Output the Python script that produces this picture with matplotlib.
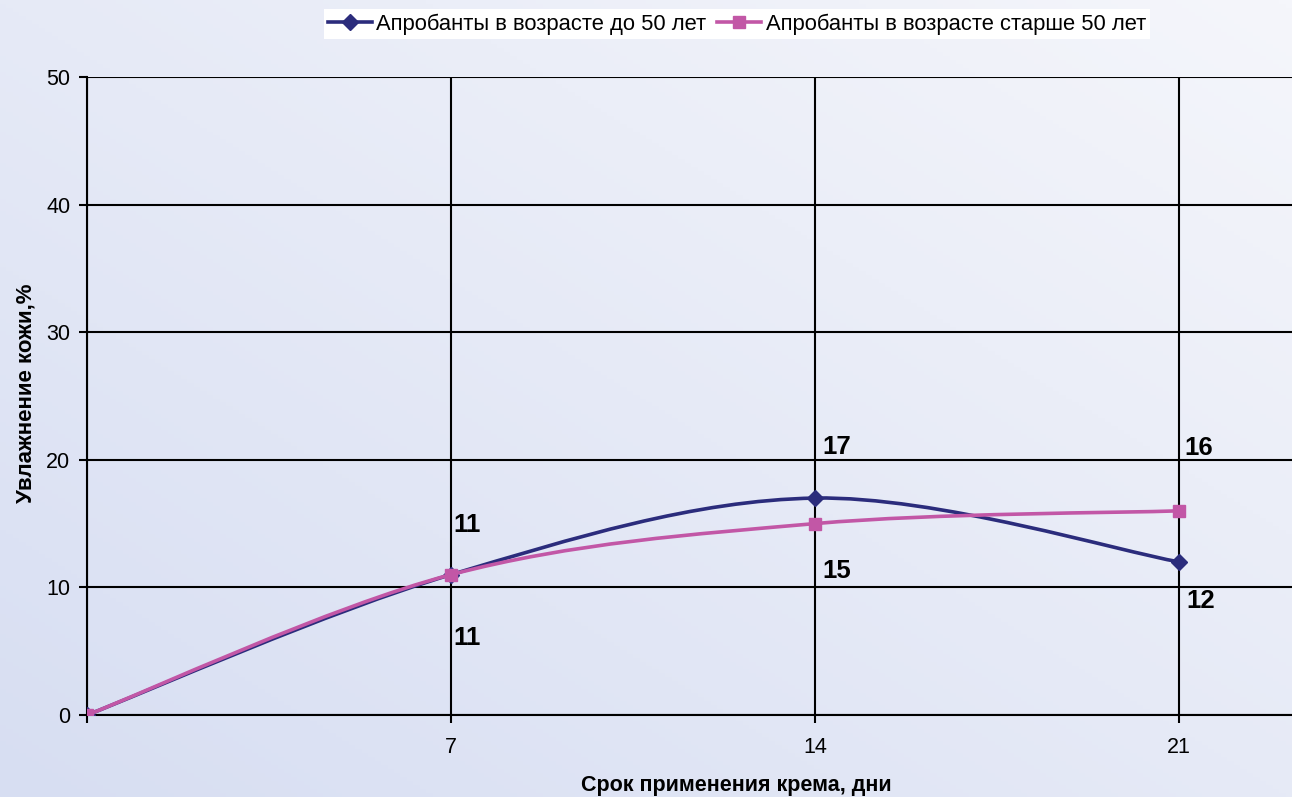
import numpy as np
import matplotlib
matplotlib.use("Agg")
import matplotlib.pyplot as plt
from matplotlib.path import Path
from matplotlib.patches import PathPatch
from matplotlib.lines import Line2D
from matplotlib.colors import LinearSegmentedColormap

plt.rcParams['font.family'] = ['Liberation Sans', 'DejaVu Sans']

# data
days = [0, 7, 14, 21]
under50 = [0, 11, 17, 12]
over50 = [0, 11, 15, 16]
names = ['Апробанты в возрасте до 50 лет', 'Апробанты в возрасте старше 50 лет']
xtick_labels = ['', '7', '14', '21']

# label offsets in pixels (dx, dy of label centre)
under50_off = [None, (2, -63), (7, 51), (7, -39)]
over50_off = [None, (2, 50), (7, -47), (5, 63)]

blue = '#2B2C7C'
pink = '#C257A6'


def smooth_path(x, y):
    # Excel style smoothed line: cubic bezier with catmull-rom tangents
    pts = np.column_stack([x, y]).astype(float)
    n = len(pts)
    verts = [pts[0]]
    codes = [Path.MOVETO]
    for i in range(n - 1):
        p0 = pts[i - 1] if i > 0 else pts[i]
        p1, p2 = pts[i], pts[i + 1]
        p3 = pts[i + 2] if i + 2 < n else pts[i + 1]
        c1 = p1 + (p2 - p0) / 6
        c2 = p2 - (p3 - p1) / 6
        verts += [c1, c2, p2]
        codes += [Path.CURVE4] * 3
    return Path(verts, codes)


fig = plt.figure(figsize=(12.92, 7.97), dpi=100)

# gradient background
bg = fig.add_axes([0, 0, 1, 1], zorder=-10)
gx, gy = np.meshgrid(np.linspace(0, 1, 200), np.linspace(0, 1, 200))
cmap = LinearSegmentedColormap.from_list('bg', ['#D7DEF2', '#F5F6FB'])
bg.imshow((gx + gy) / 2, cmap=cmap, origin='lower', extent=[0, 1, 0, 1], aspect='auto')
bg.axis('off')

ax = fig.add_axes([87 / 1292, 82 / 797, 1 - 87 / 1292, 638 / 797])
ax.set_facecolor('none')
ax.set_xlim(0, (1292 - 87) / 52)
ax.set_ylim(0, 50)
ax.set_xticks(days)
ax.set_xticklabels(xtick_labels)
ax.set_yticks([0, 10, 20, 30, 40, 50])
ax.tick_params(labelsize=15.5, length=6, width=1.5, color='black')
ax.tick_params(axis='x', pad=10)
ax.tick_params(axis='y', pad=6)
ax.grid(True, color='black', linewidth=1.5)
for s in ['top', 'right']:
    ax.spines[s].set_visible(False)
for s in ['left', 'bottom']:
    ax.spines[s].set_linewidth(1.5)

ax.add_patch(PathPatch(smooth_path(days, under50), fill=False, edgecolor=blue, lw=2.6, zorder=3))
ax.plot(days, under50, linestyle='none', marker='D', markersize=8, color=blue, zorder=4)
ax.add_patch(PathPatch(smooth_path(days, over50), fill=False, edgecolor=pink, lw=2.6, zorder=5))
ax.plot(days, over50, linestyle='none', marker='s', markersize=8.5, color=pink, zorder=6)

for vals, offs in [(under50, under50_off), (over50, over50_off)]:
    for x, v, o in zip(days, vals, offs):
        if o is None:
            continue
        ax.annotate(str(v), (x, v), xytext=(o[0] * 0.72, o[1] * 0.72), textcoords='offset points',
                    ha='left', va='center', fontsize=18.5, fontweight='bold')

ax.set_ylabel('Увлажнение кожи,%', fontsize=16, fontweight='bold')
ax.yaxis.set_label_coords(-50 / 1205, 0.505)
fig.text(736 / 1292, 1 - 785 / 797, 'Срок применения крема, дни', fontsize=15.5,
         fontweight='bold', ha='center', va='center')

handles = [Line2D([], [], color=blue, lw=2.6, marker='D', markersize=8),
           Line2D([], [], color=pink, lw=2.6, marker='s', markersize=8.5)]
leg = fig.legend(handles, names, loc='center', bbox_to_anchor=(737 / 1292, 1 - 24 / 797),
                 ncol=2, fontsize=15.8, frameon=True, fancybox=False, framealpha=1,
                 edgecolor='none', facecolor='white', handlelength=2.0, handletextpad=0.2,
                 columnspacing=0.5, borderpad=0.2, borderaxespad=0)

fig.savefig('out.png', dpi=100)
